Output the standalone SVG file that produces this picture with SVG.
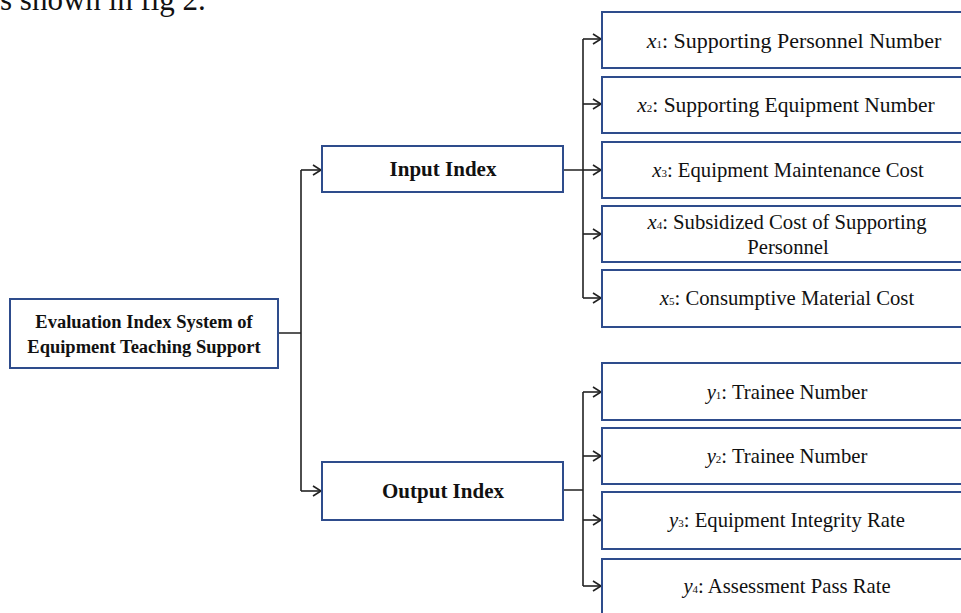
<svg xmlns="http://www.w3.org/2000/svg" width="961" height="613" viewBox="0 0 961 613">
<defs>
<style>
.box{fill:#fff;stroke:#2E4C8C;stroke-width:2}
.c{fill:none;stroke:#222;stroke-width:1.6}
.a{fill:none;stroke:#222;stroke-width:1.6;marker-end:url(#arr)}
.b{font-family:"Liberation Serif",serif;font-weight:bold;fill:#111;text-anchor:middle}
.t{font-family:"Liberation Serif",serif;font-size:20.7px;fill:#111;text-anchor:middle}
.i{font-style:italic}
.s{font-size:11px}
</style>
<marker id="arr" markerUnits="userSpaceOnUse" markerWidth="12" markerHeight="12" refX="9" refY="6" orient="auto">
<path d="M1,1 L9,6 L1,11" fill="none" stroke="#222" stroke-width="1.6"/>
</marker>
</defs>
<rect width="961" height="613" fill="#fff"/>
<text x="0" y="10" font-family="Liberation Serif,serif" font-size="31" fill="#111">s shown in fig 2.</text>
<g id="connectors">
<path class="c" d="M278,333 H301 M301,170 V491"/>
<path class="a" d="M301,170 H321"/>
<path class="a" d="M301,491 H321"/>
<path class="c" d="M563,170 H583 M583,39 V298"/>
<path class="a" d="M583,39 H601"/>
<path class="a" d="M583,104 H601"/>
<path class="a" d="M583,170 H601"/>
<path class="a" d="M583,234 H601"/>
<path class="a" d="M583,298 H601"/>
<path class="c" d="M563,490 H583 M583,392 V586"/>
<path class="a" d="M583,392 H601"/>
<path class="a" d="M583,456 H601"/>
<path class="a" d="M583,520 H601"/>
<path class="a" d="M583,586 H601"/>
</g>
<g id="root">
<rect class="box" x="10" y="299" width="268" height="69"/>
<text class="b" font-size="18.5" x="144" y="328">Evaluation Index System of</text>
<text class="b" font-size="18.5" x="144" y="353">Equipment Teaching Support</text>
</g>
<g id="input">
<rect class="box" x="322" y="146" width="241" height="46"/>
<text class="b" font-size="21" x="443" y="176">Input Index</text>
</g>
<g id="output">
<rect class="box" x="322" y="462" width="241" height="58"/>
<text class="b" font-size="21" x="443" y="498">Output Index</text>
</g>
<g id="x1">
<rect class="box" x="602" y="12" width="390" height="56"/>
<text class="t" style="font-size:22px" x="794" y="48"><tspan class="i">x</tspan><tspan class="s">1</tspan>: Supporting Personnel Number</text>
</g>
<g id="x2">
<rect class="box" x="602" y="77" width="390" height="56"/>
<text class="t" style="font-size:21.5px" x="786" y="112"><tspan class="i">x</tspan><tspan class="s">2</tspan>: Supporting Equipment Number</text>
</g>
<g id="x3">
<rect class="box" x="602" y="142" width="390" height="56"/>
<text class="t" x="788" y="177"><tspan class="i">x</tspan><tspan class="s">3</tspan>: Equipment Maintenance Cost</text>
</g>
<g id="x4">
<rect class="box" x="602" y="206" width="390" height="56"/>
<text class="t" x="787" y="229"><tspan class="i">x</tspan><tspan class="s">4</tspan>: Subsidized Cost of Supporting</text>
<text class="t" x="788" y="254">Personnel</text>
</g>
<g id="x5">
<rect class="box" x="602" y="270" width="390" height="57"/>
<text class="t" x="787" y="305"><tspan class="i">x</tspan><tspan class="s">5</tspan>: Consumptive Material Cost</text>
</g>
<g id="y1">
<rect class="box" x="602" y="363" width="390" height="57"/>
<text class="t" x="787" y="399"><tspan class="i">y</tspan><tspan class="s">1</tspan>: Trainee Number</text>
</g>
<g id="y2">
<rect class="box" x="602" y="428" width="390" height="56"/>
<text class="t" x="787" y="463"><tspan class="i">y</tspan><tspan class="s">2</tspan>: Trainee Number</text>
</g>
<g id="y3">
<rect class="box" x="602" y="492" width="390" height="57"/>
<text class="t" x="787" y="527"><tspan class="i">y</tspan><tspan class="s">3</tspan>: Equipment Integrity Rate</text>
</g>
<g id="y4">
<rect class="box" x="602" y="559" width="390" height="70"/>
<text class="t" x="787" y="593"><tspan class="i">y</tspan><tspan class="s">4</tspan>: Assessment Pass Rate</text>
</g>
</svg>
